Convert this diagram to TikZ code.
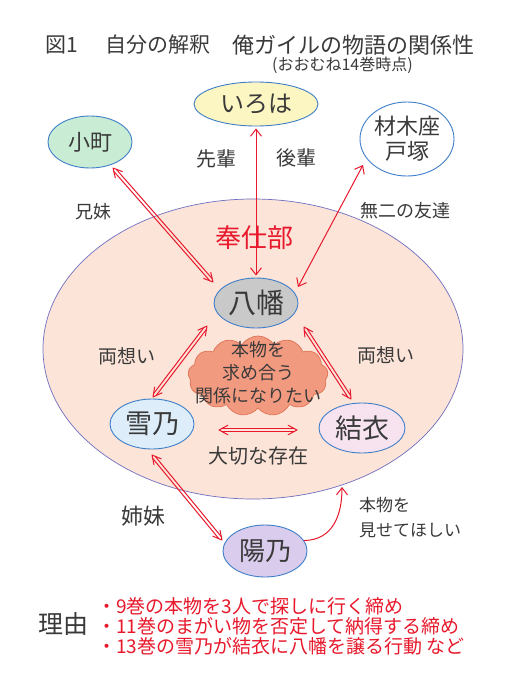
\documentclass[tikz,border=0pt]{standalone}
\usepackage{fontspec}
\setmainfont{Noto Sans CJK JP}
\usetikzlibrary{shapes.geometric,shapes.symbols,arrows.meta,calc}
\definecolor{ink}{HTML}{3A3A3A}
\definecolor{redl}{HTML}{E8192C}
\definecolor{bord}{HTML}{3F7FC9}
\definecolor{peach}{HTML}{FCE4D8}
\definecolor{bigb}{HTML}{6F6FC0}
\definecolor{fyel}{HTML}{FCF6C2}
\definecolor{fgrn}{HTML}{C9EDD4}
\definecolor{fgry}{HTML}{C9C9C9}
\definecolor{fblu}{HTML}{DDEEFA}
\definecolor{fpnk}{HTML}{F6E3EF}
\definecolor{flav}{HTML}{D9CCEC}
\definecolor{fcld}{HTML}{F29A80}
\definecolor{bcld}{HTML}{E0785C}
\newcommand\fz[1]{\fontsize{#1}{#1}\selectfont}
\tikzset{
  person/.style={ellipse, draw=bord, line width=0.9pt, inner sep=0pt, text=ink},
  lbl/.style={text=ink, inner sep=0pt},
  rl/.style={draw=redl, line width=1pt, line cap=round, line join=round},
  sarr/.style={rl, {Straight Barb[length=7pt,width=11pt]}-{Straight Barb[length=7pt,width=11pt]}},
}
\newcommand\dblarr[2]{%
  \draw[rl] ($(#1)!3pt!(#2)!1.6pt!90:(#2)$) -- ($(#2)!3pt!(#1)!1.6pt!-90:(#1)$);
  \draw[rl] ($(#1)!3pt!(#2)!1.6pt!-90:(#2)$) -- ($(#2)!3pt!(#1)!1.6pt!90:(#1)$);
  \draw[rl] ($(#1)!10pt!28:(#2)$) -- (#1) -- ($(#1)!10pt!-28:(#2)$);
  \draw[rl] ($(#2)!10pt!28:(#1)$) -- (#2) -- ($(#2)!10pt!-28:(#1)$);}
\begin{document}
\begin{tikzpicture}[x=1pt,y=-1pt]
\fill[white] (0,0) rectangle (504,680);
\useasboundingbox (0,0) rectangle (504,680);
% title
\node[lbl, anchor=west, font=\fz{21}] (t1) at (45,45) {図1};
\node[lbl, anchor=west, font=\fz{21}] (t2) at (105,45) {自分の解釈};
\node[lbl, anchor=west, font=\fz{22}] (t3) at (232,45) {俺ガイルの物語の関係性};
\node[lbl, anchor=west, font=\fz{16}] (sub) at (272,65) {(おおむね14巻時点)};
% big ellipse
\node[ellipse, draw=bigb, line width=0.7pt, fill=peach, minimum width=420pt, minimum height=300pt, inner sep=0pt] (club) at (253,349) {};
\node[lbl, text=redl, font=\fz{26}] (clubname) at (254,238) {奉仕部};
% outer persons
\node[person, fill=fyel, minimum width=124pt, minimum height=44pt, font=\fz{24}] (iro) at (256,104) {いろは};
\node[person, fill=fgrn, minimum width=84pt, minimum height=52pt, font=\fz{22}] (kom) at (90,142) {小町};
\node[person, fill=white, minimum width=94pt, minimum height=74pt, font=\fz{22}, align=center] (tot) at (407,139) {材木座\\[3pt]戸塚};
% inner persons
\node[person, fill=fgry, minimum width=84pt, minimum height=50pt, font=\fz{28}] (hachi) at (256,303) {八幡};
\node[person, fill=fblu, minimum width=84pt, minimum height=50pt, font=\fz{27}] (yuki) at (152,424) {雪乃};
\node[person, fill=fpnk, minimum width=86pt, minimum height=50pt, font=\fz{27}] (yui) at (362,428) {結衣};
\node[person, fill=flav, minimum width=84pt, minimum height=52pt, font=\fz{26}] (har) at (265,551) {陽乃};
% cloud
\node[cloud, cloud puffs=13, cloud puff arc=115, aspect=1.8, draw=bcld, line width=0.8pt, fill=fcld, minimum width=140pt, minimum height=80pt, inner sep=0pt] (cld) at (258,376) {};
\node[lbl, font=\fontsize{18}{23}\selectfont, align=center] (cldt) at (258,373) {本物を\\求め合う\\関係になりたい};
% labels
\node[lbl, font=\fz{20}] (senpai) at (216,159) {先輩};
\node[lbl, font=\fz{20}] (kouhai) at (296,158) {後輩};
\node[lbl, font=\fz{18}] (kyoudai) at (93,212) {兄妹};
\node[lbl, font=\fz{18}] (muni) at (405,211) {無二の友達};
\node[lbl, font=\fz{19}] (ryoL) at (127,356) {両想い};
\node[lbl, font=\fz{19}] (ryoR) at (386,355) {両想い};
\node[lbl, font=\fz{20}] (taisetsu) at (258,456) {大切な存在};
\node[lbl, font=\fz{22}] (shimai) at (143,516) {姉妹};
\node[lbl, font=\fontsize{17}{25}\selectfont, align=left, anchor=west] (misete) at (359,518) {本物を\\見せてほしい};
% reasons
\node[lbl, font=\fz{25}] (riyu) at (63,624) {理由};
\node[lbl, text=redl, font=\fz{19}, anchor=west] (r1) at (97,606) {・9巻の本物を3人で探しに行く締め};
\node[lbl, text=redl, font=\fz{19}, anchor=west] (r2) at (97,626) {・11巻のまがい物を否定して納得する締め};
\node[lbl, text=redl, font=\fz{19}, anchor=west] (r3) at (97,646) {・13巻の雪乃が結衣に八幡を譲る行動 など};
% connectors
\draw[sarr, shorten <=2pt, shorten >=2pt] (iro.south) -- (hachi.north);
\coordinate (tA) at (363,165);
\coordinate (tB) at (298,287);
\draw[sarr] (tA) -- (tB);
\coordinate (kA) at (113,168);
\coordinate (kB) at (213,282);
\dblarr{kA}{kB}
\coordinate (hyA) at (207,326);
\coordinate (hyB) at (153,397);
\dblarr{hyA}{hyB}
\coordinate (huA) at (304,327);
\coordinate (huB) at (351,399);
\dblarr{huA}{huB}
\coordinate (yyA) at (219,430);
\coordinate (yyB) at (297,430);
\dblarr{yyA}{yyB}
\coordinate (shA) at (152,455);
\coordinate (shB) at (222,540);
\dblarr{shA}{shB}
\coordinate (hcE) at (342,487);
\draw[rl, -{Straight Barb[length=7pt,width=11pt]}] (har.15) .. controls (333,540) and (342,515) .. (hcE);
\end{tikzpicture}
\end{document}
